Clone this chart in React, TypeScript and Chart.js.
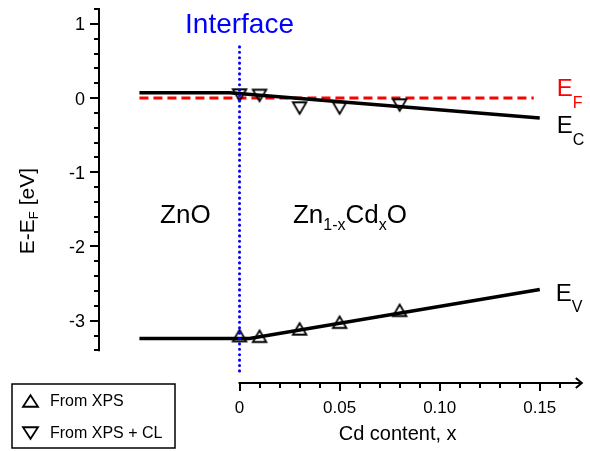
import React, { useEffect, useRef } from "react";
import { Chart, registerables } from "chart.js";

Chart.register(...registerables);

const FONT = '"Liberation Sans", Arial, Helvetica, sans-serif';

// ---- data ----
const xpsX = [0, 0.01, 0.03, 0.05, 0.08];
const xpsY = [-3.2, -3.21, -3.11, -3.02, -2.86];
const xpsClX = [0, 0.01, 0.03, 0.05, 0.08];
const xpsClY = [0.04, 0.035, -0.135, -0.135, -0.095];
const ecX = [-0.05, -0.005, 0.15];
const ecY = [0.07, 0.07, -0.27];
const evX = [-0.05, 0.005, 0.15];
const evY = [-3.24, -3.24, -2.58];
const efX = [-0.05, 0.147];
const efY = [0, 0];
const interfaceX = [0, 0];
const interfaceY = [0.69, -3.68];

const yMajorTicks = [-3, -2, -1, 0, 1];
const yTickLabels = ["-3", "-2", "-1", "0", "1"];
const xMajorTicks = [0, 0.05, 0.1, 0.15];
const xTickLabels = ["0", "0.05", "0.10", "0.15"];
const yAxisRange = [-3.4, 1.2];
const xAxisRange = [0, 0.171];
const yMinorStep = 0.2;
const xMinorStep = 0.01;

const X_MIN = -0.0702;
const X_MAX = 0.1711;
const Y_MIN = -3.84;
const Y_MAX = 1.2;

const pts = (xs: number[], ys: number[]) => xs.map((x, i) => ({ x, y: ys[i] }));

function triImg(w: number, h: number, up: boolean, lw: number) {
  const c = document.createElement("canvas");
  const W = Math.ceil(w + lw * 2 + 2);
  const H = Math.ceil(h + lw * 2 + 2);
  c.width = W;
  c.height = H;
  const g = c.getContext("2d")!;
  const cx = W / 2;
  const cy = H / 2;
  g.lineWidth = lw;
  g.strokeStyle = "#000";
  g.lineJoin = "miter";
  g.beginPath();
  if (up) {
    g.moveTo(cx, cy - h / 2);
    g.lineTo(cx + w / 2, cy + h / 2);
    g.lineTo(cx - w / 2, cy + h / 2);
  } else {
    g.moveTo(cx - w / 2, cy - h / 2);
    g.lineTo(cx + w / 2, cy - h / 2);
    g.lineTo(cx, cy + h / 2);
  }
  g.closePath();
  g.stroke();
  return c;
}

type Part = { t: string; sub?: boolean };

function drawParts(
  ctx: CanvasRenderingContext2D,
  x: number,
  y: number,
  parts: Part[],
  size: number,
  subSize: number,
  subOff: number,
  align: "left" | "center" = "left"
) {
  let total = 0;
  for (const p of parts) {
    ctx.font = `${p.sub ? subSize : size}px ${FONT}`;
    total += ctx.measureText(p.t).width;
  }
  let cx = align === "center" ? x - total / 2 : x;
  ctx.textAlign = "left";
  ctx.textBaseline = "alphabetic";
  for (const p of parts) {
    ctx.font = `${p.sub ? subSize : size}px ${FONT}`;
    ctx.fillText(p.t, cx, p.sub ? y + subOff : y);
    cx += ctx.measureText(p.t).width;
  }
}

function makeDecorPlugin(legUp: HTMLCanvasElement, legDown: HTMLCanvasElement) {
  return {
    id: "decor",
    afterDraw(chart: any) {
      const ctx: CanvasRenderingContext2D = chart.ctx;
      const xs = chart.scales.x;
      const ys = chart.scales.y;
      const px = (v: number) => xs.getPixelForValue(v);
      const py = (v: number) => ys.getPixelForValue(v);
      const area = chart.chartArea;
      ctx.save();
      ctx.strokeStyle = "#000";
      ctx.fillStyle = "#000";
      ctx.lineWidth = 2;
      ctx.lineCap = "butt";
      ctx.setLineDash([]);

      // Y axis
      const ax = area.left;
      ctx.beginPath();
      ctx.moveTo(ax, py(yAxisRange[1]) - 1);
      ctx.lineTo(ax, py(yAxisRange[0]) + 1);
      ctx.stroke();
      const nY = Math.round((yAxisRange[1] - yAxisRange[0]) / yMinorStep);
      for (let i = 0; i <= nY; i++) {
        const v = yAxisRange[0] + i * yMinorStep;
        const major = yMajorTicks.some((t) => Math.abs(t - v) < 1e-6);
        const y = Math.round(py(v));
        ctx.beginPath();
        ctx.moveTo(ax, y);
        ctx.lineTo(ax - (major ? 9 : 5), y);
        ctx.stroke();
      }
      ctx.font = `18px ${FONT}`;
      ctx.textAlign = "right";
      ctx.textBaseline = "alphabetic";
      yMajorTicks.forEach((t, i) => {
        ctx.fillText(yTickLabels[i], ax - 14, py(t) + 6.5);
      });

      // X axis
      const ay = area.bottom;
      const xEnd = px(xAxisRange[1]);
      ctx.beginPath();
      ctx.moveTo(px(xAxisRange[0]) - 1, ay);
      ctx.lineTo(xEnd, ay);
      ctx.stroke();
      ctx.beginPath();
      ctx.moveTo(xEnd - 6, ay - 5);
      ctx.lineTo(xEnd, ay);
      ctx.lineTo(xEnd - 6, ay + 5);
      ctx.stroke();
      const nX = Math.round((0.16 - xAxisRange[0]) / xMinorStep);
      for (let i = 0; i <= nX; i++) {
        const v = xAxisRange[0] + i * xMinorStep;
        const major = xMajorTicks.some((t) => Math.abs(t - v) < 1e-6);
        const x = Math.round(px(v));
        ctx.beginPath();
        ctx.moveTo(x, ay);
        ctx.lineTo(x, ay + (major ? 8 : 5));
        ctx.stroke();
      }
      ctx.font = `17px ${FONT}`;
      ctx.textAlign = "center";
      xMajorTicks.forEach((t, i) => {
        ctx.fillText(xTickLabels[i], px(t), ay + 30);
      });

      // axis titles
      ctx.font = `20px ${FONT}`;
      ctx.textAlign = "center";
      ctx.fillText("Cd content, x", px(0.079), ay + 57);

      ctx.save();
      ctx.translate(px(-0.1029), py(-1.523));
      ctx.rotate(-Math.PI / 2);
      drawParts(ctx, 0, 0, [{ t: "E-E" }, { t: "F", sub: true }, { t: " [eV]" }], 21, 13, 4, "center");
      ctx.restore();

      // annotations
      ctx.fillStyle = "#0000ff";
      ctx.font = `28px ${FONT}`;
      ctx.textAlign = "center";
      ctx.fillText("Interface", px(0), py(0.872));

      ctx.fillStyle = "#000";
      drawParts(ctx, px(-0.0397), py(-1.689), [{ t: "ZnO" }], 26, 16, 7);
      drawParts(
        ctx,
        px(0.0267),
        py(-1.689),
        [{ t: "Zn" }, { t: "1-x", sub: true }, { t: "Cd" }, { t: "x", sub: true }, { t: "O" }],
        26,
        16,
        7
      );

      ctx.fillStyle = "#ff0000";
      drawParts(ctx, px(0.1585), py(0.027), [{ t: "E" }, { t: "F", sub: true }], 24, 16, 12);
      ctx.fillStyle = "#000";
      drawParts(ctx, px(0.1585), py(-0.476), [{ t: "E" }, { t: "C", sub: true }], 24, 16, 12);
      drawParts(ctx, px(0.158), py(-2.729), [{ t: "E" }, { t: "V", sub: true }], 24, 16, 11);

      // legend
      ctx.lineWidth = 1.5;
      ctx.strokeStyle = "#000";
      ctx.strokeRect(12, 384, 163, 64);
      ctx.drawImage(legUp, Math.round(30 - legUp.width / 2), Math.round(401.3 - legUp.height / 2));
      ctx.drawImage(legDown, Math.round(30 - legDown.width / 2), Math.round(433.3 - legDown.height / 2));
      ctx.fillStyle = "#000";
      ctx.font = `16px ${FONT}`;
      ctx.textAlign = "left";
      ctx.fillText("From XPS", 50, 405.7);
      ctx.fillText("From XPS + CL", 50, 438.3);

      ctx.restore();
    },
  };
}

export default function App() {
  const ref = useRef<HTMLCanvasElement>(null);

  useEffect(() => {
    const canvas = ref.current!;
    const upImg = triImg(13.5, 11.5, true, 1.8);
    const downImg = triImg(13.5, 11.5, false, 1.8);
    const legUp = triImg(15, 11.5, true, 1.8);
    const legDown = triImg(15, 11.5, false, 1.8);

    const chart: any = new Chart(canvas, {
      type: "scatter",
      data: {
        datasets: [
          {
            label: "Interface",
            data: pts(interfaceX, interfaceY),
            showLine: true,
            borderColor: "#0000ff",
            borderWidth: 3,
            borderDash: [0.1, 5.3],
            borderCapStyle: "round",
            pointRadius: 0,
            order: 0,
          },
          {
            label: "From XPS",
            data: pts(xpsX, xpsY),
            showLine: false,
            pointStyle: upImg as any,
            pointRadius: 7,
            order: 1,
          },
          {
            label: "From XPS + CL",
            data: pts(xpsClX, xpsClY),
            showLine: false,
            pointStyle: downImg as any,
            pointRadius: 7,
            order: 1,
          },
          {
            label: "Ec",
            data: pts(ecX, ecY),
            showLine: true,
            borderColor: "#000",
            borderWidth: 3.5,
            pointRadius: 0,
            order: 2,
          },
          {
            label: "Ev",
            data: pts(evX, evY),
            showLine: true,
            borderColor: "#000",
            borderWidth: 3.5,
            pointRadius: 0,
            order: 2,
          },
          {
            label: "Ef",
            data: pts(efX, efY),
            showLine: true,
            borderColor: "#ff0000",
            borderWidth: 3,
            borderDash: [9, 5],
            pointRadius: 0,
            order: 3,
          },
        ],
      },
      options: {
        animation: false,
        responsive: false,
        devicePixelRatio: 1,
        events: [],
        layout: { padding: { left: 99, right: 3, top: 9, bottom: 68 } },
        plugins: { legend: { display: false }, tooltip: { enabled: false } },
        scales: {
          x: { type: "linear", min: X_MIN, max: X_MAX, display: false },
          y: { type: "linear", min: Y_MIN, max: Y_MAX, display: false },
        },
      },
      plugins: [makeDecorPlugin(legUp, legDown)],
    });

    return () => chart.destroy();
  }, []);

  return (
    <div style={{ position: "absolute", left: 0, top: 0, width: 590, height: 451, background: "#fff" }}>
      <canvas ref={ref} width={590} height={451} style={{ display: "block", width: 590, height: 451 }} />
    </div>
  );
}
